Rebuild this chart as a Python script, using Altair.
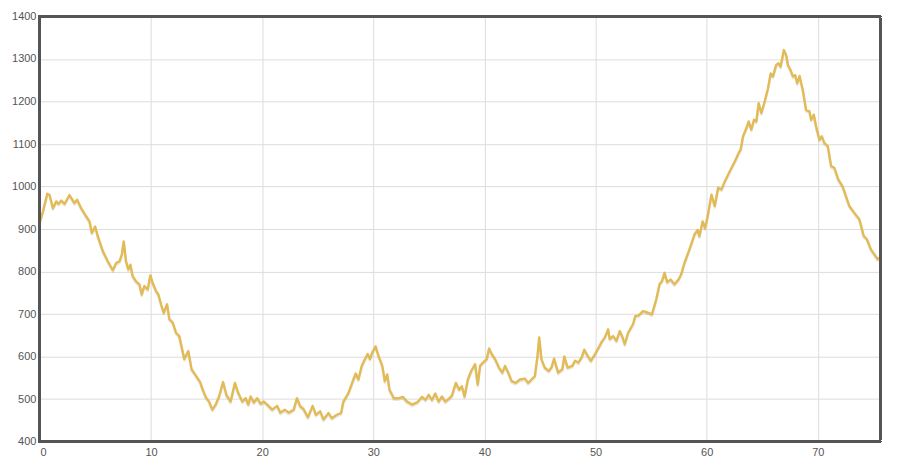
import altair as alt
import pandas as pd

distance = [
    0.0, 0.27, 0.66, 0.87, 1.17, 1.47, 1.68, 1.92, 2.22, 2.66, 3.11, 3.35, 3.71, 4.16, 4.46, 4.67, 4.97, 5.21,
    5.66, 6.11, 6.56, 6.86, 7.16, 7.37, 7.54, 7.75, 7.96, 8.14, 8.35, 8.65, 8.95, 9.16, 9.4, 9.7, 9.94,
    10.15, 10.45, 10.66, 10.9, 11.14, 11.44, 11.65, 11.95, 12.25, 12.54, 12.99, 13.35, 13.65, 14.04, 14.43,
    14.64, 14.94,
    15.22, 15.52, 15.82, 16.12, 16.48, 16.78, 17.16, 17.55, 17.85, 18.21, 18.51, 18.75, 18.96, 19.25, 19.55,
    19.85, 20.15, 20.45, 20.9, 21.34, 21.64, 22.03, 22.39, 22.84, 23.13, 23.43, 23.73, 24.12, 24.54, 24.84,
    25.22, 25.52, 25.97, 26.27, 26.72, 27.1, 27.31, 27.76, 28.21, 28.42, 28.66, 28.96, 29.25, 29.49, 29.7,
    29.91, 30.21, 30.45,
    30.81, 31.04, 31.25, 31.46, 31.85, 32.3, 32.66, 33.04, 33.49, 33.94, 34.39, 34.69, 34.99, 35.28, 35.58,
    35.88, 36.18, 36.48, 36.78, 37.07, 37.43, 37.73, 37.97, 38.21, 38.51, 38.81, 39.16, 39.4, 39.61, 39.91,
    40.21, 40.42, 40.66, 40.96, 41.31, 41.61, 41.85, 42.15, 42.45, 42.81, 43.19, 43.64, 43.94, 44.24, 44.54,
    44.78, 44.93, 45.13, 45.43, 45.79, 46.03, 46.27, 46.63,
    47.01, 47.19, 47.49, 47.91, 48.15, 48.45, 48.75, 48.99, 49.28, 49.58, 49.94, 50.24, 50.54, 50.84, 51.13,
    51.28, 51.58, 51.88, 52.18, 52.39, 52.63, 52.93, 53.37, 53.58, 53.88, 54.27, 54.72, 55.07, 55.46, 55.76,
    55.97, 56.21, 56.45, 56.75, 57.1, 57.46, 57.7, 58.0, 58.45, 58.9, 59.19, 59.34, 59.64, 59.85, 60.09,
    60.43, 60.73, 61.03, 61.33, 61.63, 62.08, 62.53, 62.88, 63.06, 63.27, 63.57, 63.78, 64.02, 64.26, 64.47,
    64.68, 64.92, 65.22, 65.52, 65.76, 65.96, 66.26, 66.47, 66.65, 66.95, 67.16, 67.31, 67.55, 67.76, 67.97,
    68.15, 68.36, 68.65, 68.95, 69.25, 69.4, 69.64, 69.85, 70.15, 70.36, 70.6, 70.9, 71.2, 71.49, 71.85,
    72.24, 72.54, 72.84, 73.29, 73.74, 74.13, 74.42, 74.78, 75.08, 75.38, 75.62,
]

elevation = [
    918, 941, 983, 980, 949, 965, 959, 967, 959, 980, 961, 969, 949, 930, 918, 891, 906, 883,
    848, 824, 803, 820, 824, 840, 871, 824, 805, 816, 789, 777, 770, 746, 766, 758, 791,
    773, 754, 746, 723, 703, 723, 688, 680, 656, 648, 594, 613, 570, 555, 539,
    523, 504,
    494, 475, 487, 506, 540, 510, 494, 538, 514, 494, 502, 487, 506, 492, 502,
    489, 494, 487, 475, 484, 468, 475, 468, 475, 502, 483, 476, 457, 484, 463,
    471, 452, 467, 455, 463, 467, 494, 514, 546, 560, 546, 578, 594, 606, 594,
    610, 624, 603,
    578, 542, 558, 522, 502, 502, 505, 494, 487, 492, 505, 498, 510, 498, 513,
    494, 506, 494, 500, 508, 538, 522, 530, 506, 546, 566, 582, 534, 578, 587,
    594, 619, 606, 594, 574, 562, 578, 562, 542, 538, 546, 548, 538, 546, 554,
    602, 645, 594, 574, 566, 574, 595, 562,
    570, 600, 574, 578, 590, 586, 598, 616, 602, 590, 605, 619, 634, 645, 664,
    641, 648, 637, 660, 648, 629, 656, 676, 695, 697, 707, 703, 699, 734, 770,
    777, 797, 775, 781, 770, 781, 793, 820, 852, 887, 898, 883, 918, 902, 930,
    981, 954, 997, 993, 1012, 1036, 1059, 1079, 1087, 1118, 1137, 1153, 1134, 1157, 1153,
    1196, 1173, 1200, 1231, 1266, 1259, 1286, 1290, 1282, 1321, 1309, 1286, 1274, 1259, 1262,
    1243, 1260, 1227, 1180, 1177, 1157, 1169, 1141, 1110, 1118, 1102, 1095, 1048, 1044, 1016,
    1000, 977, 954, 938, 923, 884, 876, 852, 841, 829, 833,
]

x_ticks = [0, 10, 20, 30, 40, 50, 60, 70]
y_ticks = [400, 500, 600, 700, 800, 900, 1000, 1100, 1200, 1300, 1400]

df = pd.DataFrame({"distance": distance, "elevation": elevation})

W, H = 842, 426

x_enc = alt.X(
    "distance:Q",
    scale=alt.Scale(domain=[0, 75.6], nice=False, zero=False),
    axis=alt.Axis(values=x_ticks, title=None, domain=False, ticks=False, labelPadding=5,
                  format="d", gridColor="#dddddd", labelColor="#555555", labelFontSize=11,
                  labelFont="Liberation Sans"),
)
y_enc = alt.Y(
    "elevation:Q",
    scale=alt.Scale(domain=[400, 1400], nice=False, zero=False),
    axis=alt.Axis(values=y_ticks, title=None, domain=False, ticks=False, labelPadding=4,
                  format="d", gridColor="#dddddd", labelColor="#555555", labelFontSize=11,
                  labelFont="Liberation Sans"),
)

shadow = alt.Chart(df).mark_line(
    color="#8a7a50", strokeWidth=2.5, opacity=0.18, yOffset=1.5, strokeJoin="round"
).encode(x=x_enc, y=y_enc)

line = alt.Chart(df).mark_line(
    color="#e2bb57", strokeWidth=2.4, strokeJoin="round"
).encode(x=x_enc, y=y_enc)

frame = alt.Chart(df).mark_rect(
    fill=None, fillOpacity=0, stroke="#555555", strokeWidth=2
).encode(
    x=alt.value(0), x2=alt.value(W), y=alt.value(0), y2=alt.value(H)
)

chart = alt.layer(shadow, line, frame).properties(
    width=W,
    height=H,
    autosize=alt.AutoSizeParams(type="none"),
    padding={"left": 32, "top": 8, "right": 12, "bottom": 24},
).configure_view(
    stroke=None
).configure(background="white")

chart.save("out.html", embed_options={"renderer": "svg", "actions": False})
